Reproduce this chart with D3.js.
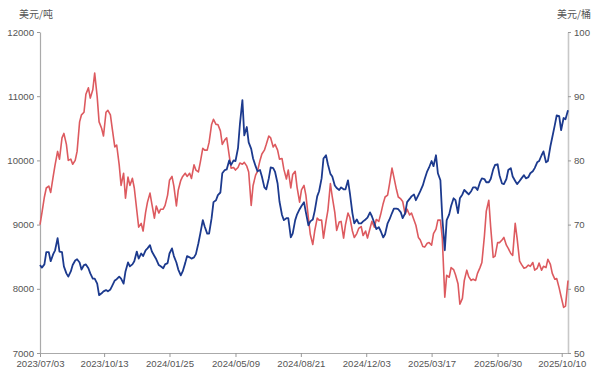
<!DOCTYPE html>
<html>
<head>
<meta charset="utf-8">
<script src="https://cdn.jsdelivr.net/npm/d3@7"></script>
<style>
  body { margin: 0; background: #fff; }
  svg text { font-family: "Liberation Sans", Arial, sans-serif; }
  svg text.unit { font-family: "Noto Sans CJK SC", sans-serif; }
</style>
</head>
<body>
<svg id="chart" width="600" height="377"></svg>
<script>
const width = 600;
const height = 377;

// samples on Mondays and Thursdays, 2023/07/03 .. 2025/10/20
const firstDay = new Date(2023, 6, 3);
const lastDay = new Date(2025, 9, 20);

// copper, USD/t (left axis)
const copper = [
  8370, 8330, 8380, 8570, 8570, 8430, 8540, 8600, 8790, 8580,
  8570, 8350, 8240, 8190, 8270, 8370, 8440, 8460, 8410, 8300,
  8370, 8380, 8320, 8240, 8160, 8160, 8080, 7900, 7930, 7960,
  7980, 7960, 7990, 8050, 8130, 8150, 8190, 8160, 8080, 8270,
  8410, 8350, 8380, 8430, 8580, 8470, 8550, 8510, 8600, 8630,
  8680, 8580, 8510, 8460, 8370, 8350, 8320, 8380, 8400, 8550,
  8630, 8510, 8410, 8300, 8210, 8270, 8400, 8510, 8490, 8470,
  8490, 8540, 8710, 8860, 9070, 8970, 8860, 8860, 9100, 9350,
  9380, 9460, 9500, 9800, 9850, 9860, 10000, 9930, 10000, 9990,
  10190, 10560, 10940, 10390, 10520, 10280, 10180, 10030, 9910, 9830,
  9850, 9750, 9580, 9550, 9720, 9890, 9880, 9820, 9640, 9360,
  9150, 9070, 9100, 9100, 8800, 8860, 9070, 9160, 9240, 9290,
  9350, 9190, 8990, 9050, 9080, 9210, 9440, 9520, 9720, 10030,
  10080, 9940, 9790, 9750, 9610, 9570, 9540, 9580, 9550, 9550,
  9690, 9490, 9180, 9020, 9080, 9020, 9020, 9050, 9080, 9110,
  9190, 9130, 9020, 8930, 8960, 8900, 8800, 8850, 9020, 9080,
  9180, 9250, 9250, 9240, 9190, 9100, 9180, 9350, 9400, 9440,
  9470, 9380, 9460, 9520, 9610, 9710, 9830, 9890, 9990, 9910,
  10080, 9800, 9690, 9110, 8600, 9070, 9160, 9290, 9410, 9380,
  9180, 9410, 9470, 9540, 9500, 9470, 9520, 9580, 9580, 9540,
  9660, 9720, 9710, 9660, 9660, 9710, 9860, 9930, 9940, 9770,
  9640, 9630, 9710, 9850, 9880, 9750, 9680, 9630, 9680, 9720,
  9770, 9720, 9740, 9800, 9830, 9880, 9970, 9990, 10080, 10140,
  9970, 9990, 10220, 10360, 10550, 10700, 10690, 10470, 10660, 10640,
  10780
];

// crude oil, USD/bbl (right axis)
const oil = [
  70.0, 71.8, 74.3, 75.7, 76.0, 75.0, 77.5, 79.3, 81.4, 80.2,
  83.5, 84.2, 82.5, 80.0, 80.2, 79.4, 80.0, 81.4, 86.0, 87.1,
  87.5, 90.3, 91.3, 89.7, 91.0, 93.6, 89.9, 86.0, 85.0, 83.8,
  87.5, 87.8, 87.1, 84.9, 82.1, 82.4, 79.3, 76.1, 78.0, 74.1,
  77.4, 76.1, 77.2, 75.7, 72.2, 69.6, 70.2, 69.0, 71.9, 73.5,
  74.9, 73.2, 71.0, 72.9, 71.8, 72.4, 72.4, 73.0, 74.6, 76.9,
  77.5, 76.0, 72.9, 75.4, 76.9, 77.5, 78.0, 77.5, 78.0, 77.2,
  79.3, 78.5, 78.2, 79.7, 81.9, 81.6, 81.6, 82.8, 85.6, 86.4,
  85.6, 85.6, 84.6, 82.5, 83.2, 83.5, 80.8, 78.8, 78.9, 78.5,
  78.9, 79.6, 79.4, 79.7, 79.1, 78.2, 73.0, 76.1, 77.7, 78.3,
  80.0, 81.0, 81.6, 82.5, 83.8, 83.5, 82.1, 82.5, 81.6, 80.2,
  80.3, 78.6, 77.1, 78.5, 75.7, 77.8, 78.3, 75.8, 73.5, 75.4,
  76.1, 74.6, 71.0, 68.5, 66.9, 69.0, 71.0, 70.7, 70.7, 67.9,
  70.5, 72.2, 76.4, 74.3, 71.9, 69.1, 70.4, 70.5, 67.9, 70.0,
  71.8, 71.1, 69.0, 68.0, 68.6, 69.4, 69.7, 68.3, 69.0, 67.9,
  69.4, 70.5, 69.6, 70.8, 70.5, 71.6, 73.3, 74.3, 74.6, 76.3,
  78.8, 77.4, 75.5, 74.3, 74.0, 73.6, 71.6, 72.4, 71.5, 71.8,
  70.7, 69.9, 68.0, 67.6, 66.6, 66.5, 67.1, 67.2, 66.8, 68.6,
  69.3, 70.7, 70.7, 67.9, 58.7, 62.1, 61.8, 63.3, 63.0, 62.2,
  60.8, 57.6, 58.5, 61.3, 62.9, 61.9, 61.3, 61.5, 61.3, 62.4,
  63.3, 64.1, 68.2, 72.1, 73.8, 69.6, 64.9, 65.1, 67.2, 67.2,
  67.6, 68.0, 66.8, 66.3, 65.5, 65.2, 70.2, 67.9, 64.3, 63.8,
  63.2, 63.3, 63.7, 63.5, 64.1, 62.9, 63.2, 64.0, 62.9, 63.5,
  63.3, 64.6, 63.8, 62.4, 61.5, 61.6, 60.1, 58.8, 57.1, 57.3,
  61.3
];

const xTickLabels = ["2023/07/03", "2023/10/13", "2024/01/25", "2024/05/09",
  "2024/08/21", "2024/12/03", "2025/03/17", "2025/06/30", "2025/10/10"];
const leftTicks = [7000, 8000, 9000, 10000, 11000, 12000];
const rightTicks = [50, 60, 70, 80, 90, 100];

const end = d3.timeDay.offset(lastDay, 1);
const dates = d3.merge([d3.timeMonday.range(firstDay, end), d3.timeThursday.range(firstDay, end)])
  .sort(d3.ascending);
const parse = d3.timeParse("%Y/%m/%d");
const fmt = d3.timeFormat("%Y/%m/%d");

const margin = { left: 40, right: 32, top: 32, bottom: 24 };
const svg = d3.select("#chart");

const x = d3.scaleTime()
  .domain([firstDay, lastDay])
  .range([margin.left, width - margin.right]);
const yL = d3.scaleLinear().domain([7000, 12000]).range([height - margin.bottom, margin.top]);
const yR = d3.scaleLinear().domain([50, 100]).range([height - margin.bottom, margin.top]);

function styleAxis(g) {
  g.select(".domain").attr("stroke", "#aaa").attr("stroke-width", 1.2);
  g.selectAll(".tick line").attr("stroke", "#999");
  g.selectAll(".tick text").attr("fill", "#555").attr("font-size", 9.6);
}

// x axis
svg.append("g")
  .attr("transform", `translate(0,${height - margin.bottom})`)
  .call(d3.axisBottom(x)
    .tickValues(xTickLabels.map(parse))
    .tickFormat(fmt)
    .tickSize(4).tickSizeOuter(0))
  .call(styleAxis)
  .call(g => g.selectAll(".tick text").attr("y", 7).attr("dy", "0.71em"));

// left axis
svg.append("g")
  .attr("transform", `translate(${margin.left},0)`)
  .call(d3.axisLeft(yL).tickValues(leftTicks).tickFormat(d3.format("d")).tickSize(3).tickSizeOuter(0))
  .call(styleAxis);

// right axis
svg.append("g")
  .attr("transform", `translate(${width - margin.right},0)`)
  .call(d3.axisRight(yR).tickValues(rightTicks).tickSize(3).tickSizeOuter(0))
  .call(styleAxis)
  .call(g => g.select(".domain").attr("stroke", "#c8c8c8").attr("stroke-width", 1.6));

// unit labels
svg.append("text").attr("class", "unit").attr("x", 36).attr("y", 18).attr("text-anchor", "middle")
  .attr("font-size", 10).attr("fill", "#555").text("美元/吨");
svg.append("text").attr("class", "unit").attr("x", 574).attr("y", 18).attr("text-anchor", "middle")
  .attr("font-size", 10).attr("fill", "#555").text("美元/桶");

// lines
const oilLine = d3.line().x((d, i) => x(dates[i])).y(d => yR(d));
const copperLine = d3.line().x((d, i) => x(dates[i])).y(d => yL(d));

svg.append("path").datum(oil)
  .attr("d", oilLine)
  .attr("fill", "none")
  .attr("stroke", "#dd5a5f")
  .attr("stroke-width", 1.6)
  .attr("stroke-linejoin", "round");

svg.append("path").datum(copper)
  .attr("d", copperLine)
  .attr("fill", "none")
  .attr("stroke", "#1c3a8e")
  .attr("stroke-width", 1.8)
  .attr("stroke-linejoin", "round");
</script>
</body>
</html>
